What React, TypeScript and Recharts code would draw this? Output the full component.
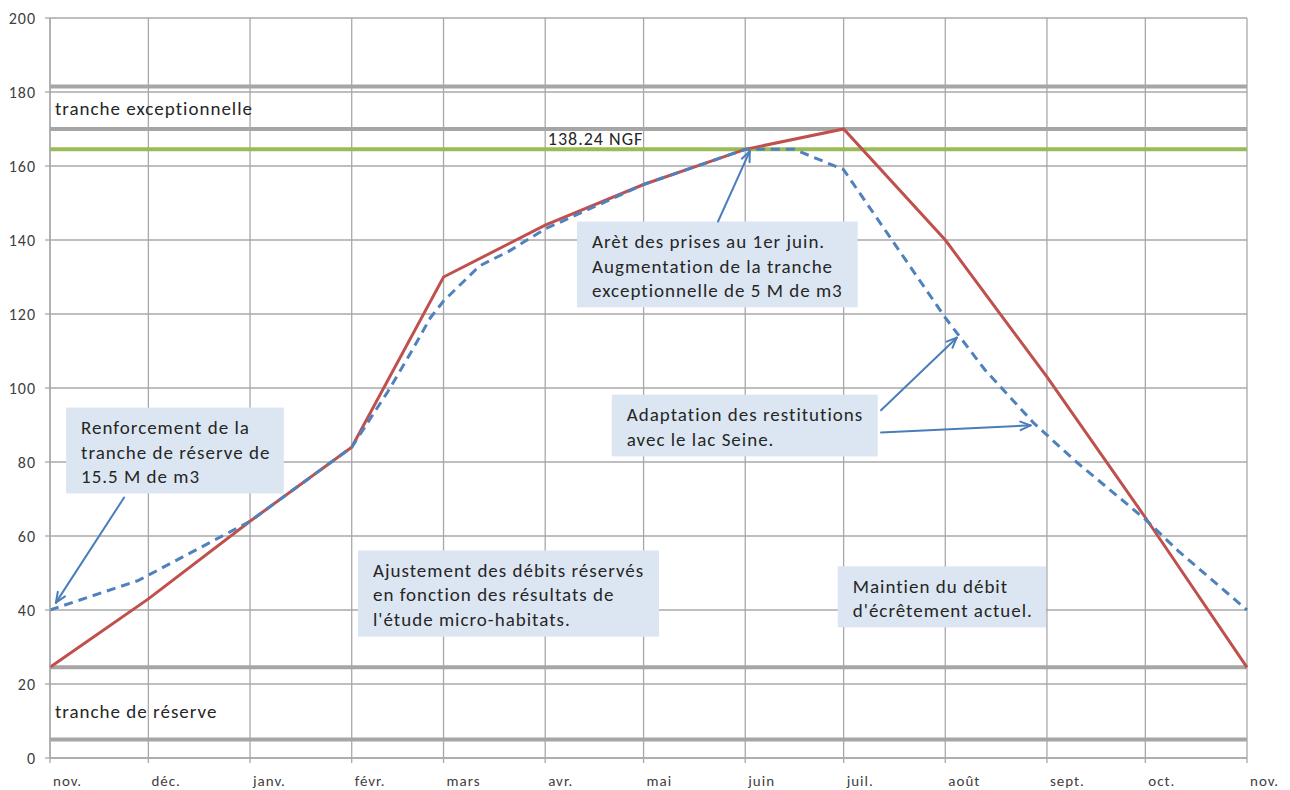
import React from 'react';
import { LineChart, Line, XAxis, YAxis, CartesianGrid, ReferenceLine, ReferenceArea, ReferenceDot } from 'recharts';

// x axis = days counted from 1 Nov
const monthLabels = ['nov.', 'déc.', 'janv.', 'févr.', 'mars', 'avr.', 'mai', 'juin', 'juil.', 'août', 'sept.', 'oct.', 'nov.'];
const monthDays = [0, 30, 61, 92, 120, 151, 181, 212, 242, 273, 304, 334, 365];
const yTicks = [0, 20, 40, 60, 80, 100, 120, 140, 160, 180, 200];

const redDays = [0, 30, 61, 92, 120, 151, 181, 212, 242, 273, 304, 334, 365];
const redValues = [24.5, 43, 64, 84, 130, 144, 155, 164.5, 170, 140, 103, 65, 24.5];

const blueDays = [0, 27, 61, 92, 103, 110, 116, 120, 131, 140, 151, 181, 212, 227, 242, 273, 285, 300, 313, 334, 344, 365];
const blueValues = [40, 48, 64, 84, 99, 109.5, 119, 123.5, 133, 137, 143, 155, 164.5, 164.5, 159, 119, 105, 90.5, 80, 64.5, 56, 40];

const greyLevels = [181.5, 170, 24.5, 5];
const ngfLevel = 164.5;

const redData = redDays.map((d, i) => ({ d, v: redValues[i] }));
const blueData = blueDays.map((d, i) => ({ d, v: blueValues[i] }));

const FONT = 'Carlito, Lato, "Open Sans", sans-serif';
const TEXT = '#262626';

const notes = [
  { x1: 4.9, x2: 71.3, y1: 71.5, y2: 94.7, lines: ['Renforcement de la', 'tranche de réserve de', '15.5 M de m3'] },
  { x1: 93.9, x2: 185.7, y1: 32.8, y2: 56.1, lines: ['Ajustement des débits réservés', 'en fonction des résultats de', "l'étude micro-habitats."] },
  { x1: 160.7, x2: 246.3, y1: 121.8, y2: 145, lines: ['Arèt des prises au 1er juin.', 'Augmentation de la tranche', 'exceptionnelle de 5 M de m3'] },
  { x1: 171.3, x2: 252.4, y1: 81.5, y2: 98.2, lines: ['Adaptation des restitutions', 'avec le lac Seine.'] },
  { x1: 240.2, x2: 303.7, y1: 35.3, y2: 51.8, lines: ['Maintien du débit', "d'écrêtement actuel."] },
];

const arrows = [
  [{ x: 22.6, y: 70.4 }, { x: 1.8, y: 42 }],
  [{ x: 203.7, y: 145 }, { x: 213.4, y: 164 }],
  [{ x: 253.4, y: 94 }, { x: 276.5, y: 113.6 }],
  [{ x: 253.4, y: 88 }, { x: 299, y: 89.9 }],
];

const labels = [
  { x: 1.5, y: 175.5, text: 'tranche exceptionnelle', size: 19 },
  { x: 151.8, y: 167.4, text: '138.24 NGF', size: 18 },
  { x: 1.5, y: 12.6, text: 'tranche de réserve', size: 19 },
];

const MonthTick = (props: any) => {
  const { x, y, payload } = props;
  const i = monthDays.indexOf(payload.value);
  return (
    <text x={x + 3} y={y + 21} fill="#404040" fontSize={15} letterSpacing={1} fontFamily={FONT} textAnchor="start">
      {monthLabels[i]}
    </text>
  );
};

const Arrow = (props: any) => {
  const { x1, y1, x2, y2 } = props;
  const a = Math.atan2(y2 - y1, x2 - x1);
  const h = 11;
  const s = 0.4;
  return (
    <g stroke="#4a7ebb" strokeWidth={2} fill="none" strokeLinecap="round">
      <line x1={x1} y1={y1} x2={x2} y2={y2} />
      <line x1={x2} y1={y2} x2={x2 - h * Math.cos(a - s)} y2={y2 - h * Math.sin(a - s)} />
      <line x1={x2} y1={y2} x2={x2 - h * Math.cos(a + s)} y2={y2 - h * Math.sin(a + s)} />
    </g>
  );
};

const noteShape = (lines: string[]) => (props: any) => {
  const { x, y, width, height } = props;
  return (
    <g>
      <rect x={x} y={y} width={width} height={height} fill="#dce6f2" />
      {lines.map((t, i) => (
        <text key={i} x={x + 15} y={y + 20 + i * 24.5} dominantBaseline="central" fontSize={19} letterSpacing={1} fontFamily={FONT} fill={TEXT}>
          {t}
        </text>
      ))}
    </g>
  );
};

const labelShape = (text: string, size: number) => (props: any) => (
  <text x={props.cx} y={props.cy} dominantBaseline="central" fontSize={size} letterSpacing={1} fontFamily={FONT} fill={TEXT}>
    {text}
  </text>
);

export default function App() {
  return (
    <div style={{ position: 'absolute', left: 0, top: 0, width: 1290, height: 790, background: '#fff' }}>
      <LineChart width={1290} height={790} margin={{ top: 18, right: 43, bottom: 2, left: 0 }}>
        <CartesianGrid stroke="#a8a8a8" strokeWidth={1.3} />
        <XAxis
          type="number"
          dataKey="d"
          domain={[0, 365]}
          ticks={monthDays}
          interval={0}
          height={30}
          tick={<MonthTick />}
          tickSize={5}
          axisLine={{ stroke: '#a8a8a8', strokeWidth: 1.3 }}
          tickLine={{ stroke: '#a8a8a8', strokeWidth: 1.3 }}
        />
        <YAxis
          type="number"
          domain={[0, 200]}
          ticks={yTicks}
          interval={0}
          width={50}
          tickSize={5}
          tickMargin={9}
          tick={{ fill: '#404040', fontSize: 16, letterSpacing: 1, fontFamily: FONT }}
          axisLine={{ stroke: '#a8a8a8', strokeWidth: 1.3 }}
          tickLine={{ stroke: '#a8a8a8', strokeWidth: 1.3 }}
        />
        {greyLevels.map((g) => (
          <ReferenceLine key={g} y={g} stroke="#a6a6a6" strokeWidth={4} />
        ))}
        <ReferenceLine y={ngfLevel} stroke="#9bbb59" strokeWidth={4} />
        {notes.map((n, i) => (
          <ReferenceArea key={i} x1={n.x1} x2={n.x2} y1={n.y1} y2={n.y2} shape={noteShape(n.lines)} />
        ))}
        {labels.map((l, i) => (
          <ReferenceDot key={i} x={l.x} y={l.y} r={1} shape={labelShape(l.text, l.size)} />
        ))}
        <Line data={redData} dataKey="v" type="linear" stroke="#c0504d" strokeWidth={3} dot={false} isAnimationActive={false} />
        <Line data={blueData} dataKey="v" type="linear" stroke="#4f81bd" strokeWidth={3} strokeDasharray="9 6" dot={false} isAnimationActive={false} />
        {arrows.map((seg, i) => (
          <ReferenceLine key={i} segment={seg} shape={Arrow} />
        ))}
      </LineChart>
    </div>
  );
}
